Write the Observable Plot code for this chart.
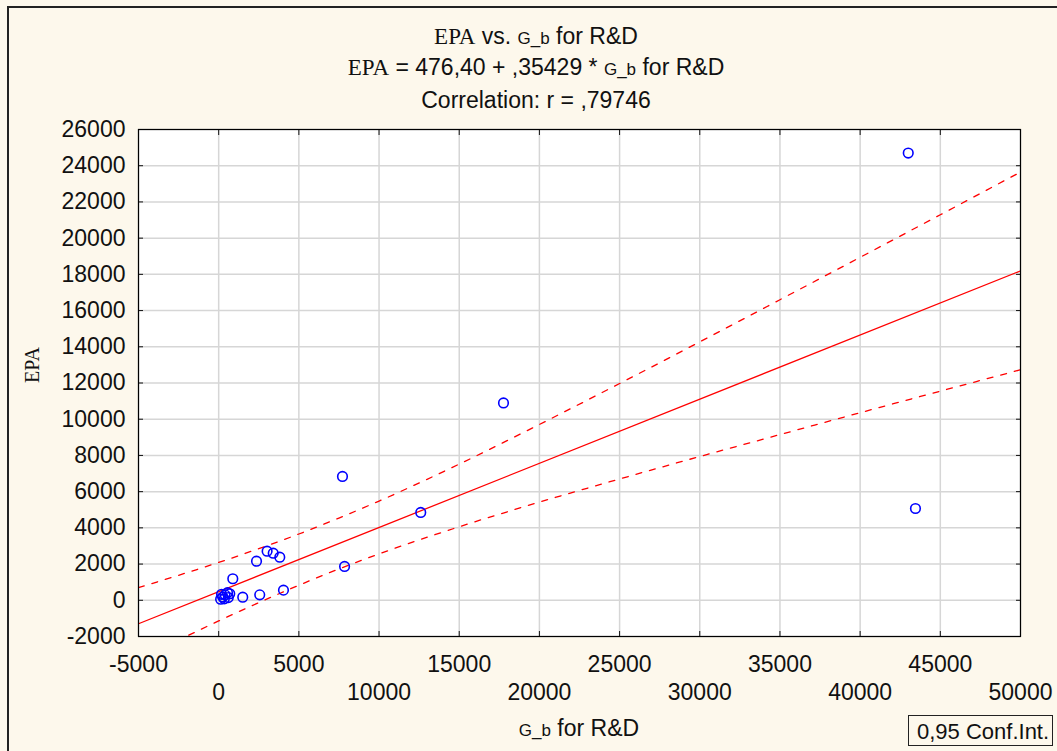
<!DOCTYPE html>
<html>
<head>
<meta charset="utf-8">
<script src="https://cdn.jsdelivr.net/npm/d3@7"></script>
<script src="https://cdn.jsdelivr.net/npm/@observablehq/plot@0.6"></script>
<style>
  html, body { margin: 0; padding: 0; background: #fdf8ec; }
  #page { position: relative; width: 1057px; height: 751px; background: #fdf8ec; overflow: hidden;
          font-family: "Liberation Sans", Arial, sans-serif; color: #111; }
  .bt { position: absolute; left: 7px; top: 6px; width: 1050px; height: 2px; background: #222; }
  .bl { position: absolute; left: 7px; top: 6px; width: 2px; height: 745px; background: #222; }
  #header { position: absolute; left: 0; top: 0; width: 1057px; height: 120px; }
  .tl { position: absolute; left: 0; width: 1072px; text-align: center; font-size: 23px; line-height: 23px; white-space: nowrap; }
  .serif { font-family: "Liberation Serif", "Times New Roman", serif; }
  .small { font-size: 17px; }
  #chart { position: absolute; left: 0; top: 120px; }
  #footer { position: absolute; left: 0; top: 716px; width: 1057px; height: 35px; }
  #xlabel { position: absolute; left: 0; width: 1158px; top: 1px; text-align: center; font-size: 23px; line-height: 23px; white-space: nowrap; }
  #legend { position: absolute; left: 908px; top: -1px; width: 145px; height: 31px; border: 1.5px solid #222;
            font-size: 22px; line-height: 31px; padding-left: 8px; box-sizing: border-box; white-space: nowrap; }
</style>
</head>
<body>
<div id="page">
  <div class="bt"></div><div class="bl"></div>
  <div id="header">
    <div class="tl" style="top:25px"><span class="serif">EPA</span> vs. <span class="small">G_b</span> for R&amp;D</div>
    <div class="tl" style="top:56px"><span class="serif">EPA</span> = 476,40 + ,35429 * <span class="small">G_b</span> for R&amp;D</div>
    <div class="tl" style="top:89px">Correlation: r = ,79746</div>
  </div>
  <div id="chart"></div>
  <div id="footer">
    <div id="xlabel"><span class="small">G_b</span> for R&amp;D</div>
    <div id="legend">0,95 Conf.Int.</div>
  </div>
</div>
<script>
// Observations: G_b for R&D (x) and EPA (y)
const gbRD = [43000, 43450, 17760, 7720, 12600, 7850, 4040, 3020, 3400, 3810, 2360, 880, 2560, 1500, 690,
              120, 250, 400, 550, 180, 350, 600];
const epa  = [24700, 5070, 10900, 6840, 4850, 1870, 560, 2710, 2600, 2380, 2160, 1190, 300, 170, 360,
              60, 180, 300, 420, 330, 80, 150];

// Fitted line (EPA = 476,40 + ,35429 * G_b) endpoints read at the axis limits
const fitX = [-5000, 50000];
const fitY = [-1295, 18191];

// 0,95 confidence band
const ciX     = [-5000, -2500, 0, 2500, 5000, 7500, 10000, 15000, 20000, 25000, 30000, 35000, 40000, 45000, 50000];
const ciUpper = [700, 1380, 2090, 2850, 3660, 4540, 5480, 7520, 9710, 11970, 14270, 16600, 18940, 21290, 23650];
const ciLower = [-3290, -2200, -1140, -130, 830, 1730, 2560, 4060, 5420, 6700, 7940, 9150, 10360, 11550, 12730];

// Axis ticks
const xTicks = [-5000, 0, 5000, 10000, 15000, 20000, 25000, 30000, 35000, 40000, 45000, 50000];
const xTicksRow1 = [-5000, 5000, 15000, 25000, 35000, 45000];
const xTicksRow2 = [0, 10000, 20000, 30000, 40000, 50000];
const yTicks = [-2000, 0, 2000, 4000, 6000, 8000, 10000, 12000, 14000, 16000, 18000, 20000, 22000, 24000, 26000];

const points = gbRD.map((x, i) => ({x, y: epa[i]}));
const fit = fitX.map((x, i) => ({x, y: fitY[i]}));
const upper = ciX.map((x, i) => ({x, y: ciUpper[i]}));
const lower = ciX.map((x, i) => ({x, y: ciLower[i]}));

const fmt = d => String(d);
const noText = () => "";
const font = "Liberation Sans, Arial, sans-serif";

const chart = Plot.plot({
  width: 1057,
  height: 596,
  marginTop: 9,
  marginLeft: 138,
  marginRight: 37,
  marginBottom: 80,
  style: {background: "transparent", fontFamily: font, color: "#111", overflow: "visible"},
  x: {domain: [-5000, 50000]},
  y: {domain: [-2000, 26000]},
  marks: [
    Plot.frame({fill: "white", stroke: "none"}),
    Plot.gridX(xTicks, {stroke: "#d6d6d6", strokeOpacity: 1, strokeWidth: 1.5}),
    Plot.gridY(yTicks, {stroke: "#d6d6d6", strokeOpacity: 1, strokeWidth: 1.5}),
    // inward tick marks on all four sides
    Plot.axisX(xTicks, {anchor: "bottom", tickSize: 5, dy: -5, tickFormat: noText, label: null}),
    Plot.axisX(xTicks, {anchor: "top", tickSize: 5, dy: 5, tickFormat: noText, label: null}),
    Plot.axisY(yTicks, {anchor: "left", tickSize: 5, dx: 5, tickFormat: noText, label: null}),
    Plot.axisY(yTicks, {anchor: "right", tickSize: 5, dx: -5, tickFormat: noText, label: null}),
    // tick labels (staggered on x)
    Plot.axisX(xTicksRow1, {anchor: "bottom", tickSize: 0, tickPadding: 19, tickFormat: fmt, label: null, fontSize: 23, fill: "#111"}),
    Plot.axisX(xTicksRow2, {anchor: "bottom", tickSize: 0, tickPadding: 47, tickFormat: fmt, label: null, fontSize: 23, fill: "#111"}),
    Plot.axisY(yTicks, {anchor: "left", tickSize: 0, tickPadding: 13, tickFormat: fmt, label: null, fontSize: 23, fill: "#111"}),
    // y axis title
    Plot.text(["EPA"], {frameAnchor: "left", text: d => d, dx: -106, rotate: -90,
                        fontFamily: "Liberation Serif, Times New Roman, serif", fontSize: 20, fill: "#111"}),
    // confidence band and fit
    Plot.line(upper, {x: "x", y: "y", stroke: "#ff0000", strokeWidth: 1.3, strokeDasharray: "6,8", curve: "monotone-x", clip: true}),
    Plot.line(lower, {x: "x", y: "y", stroke: "#ff0000", strokeWidth: 1.3, strokeDasharray: "6,8", curve: "monotone-x", clip: true}),
    Plot.line(fit, {x: "x", y: "y", stroke: "#ff0000", strokeWidth: 1.3, clip: true}),
    Plot.dot(points, {x: "x", y: "y", r: 4.8, stroke: "#0000ff", strokeWidth: 1.6, fill: "none"}),
    Plot.frame({stroke: "#000", strokeWidth: 1.2})
  ]
});
document.getElementById("chart").appendChild(chart);
</script>
</body>
</html>
